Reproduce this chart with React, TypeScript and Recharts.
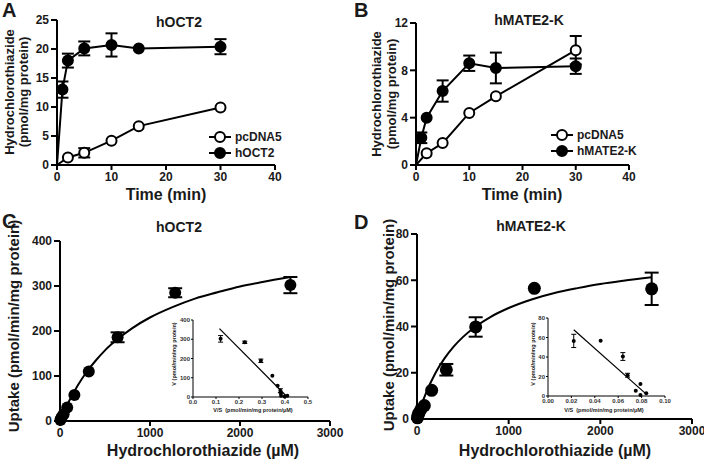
import React from 'react';
import { ComposedChart, Line, Scatter, XAxis, YAxis, ErrorBar, Legend, Label } from 'recharts';

const FONT = '"Liberation Sans", Arial, Helvetica, sans-serif';
const INK = '#1a1a1a';
const W = 704;
const H = 461;

// ---------- Panel A: hOCT2 time course ----------
const pcA_t = [0, 2, 5, 10, 15, 30];
const pcA_v = [0, 1.3, 2.1, 4.2, 6.7, 9.9];
const pcA_e = [0, 0, 0.8, 0, 0, 0];
const octA_t = [0, 1, 2, 5, 10, 15, 30];
const octA_v = [0, 13.0, 18.0, 20.1, 20.7, 20.1, 20.4];
const octA_e = [0, 1.4, 1.2, 1.2, 2.0, 0, 1.3];
const timeTicks = [0, 10, 20, 30, 40];
const aYTicks = [0, 5, 10, 15, 20, 25];

// ---------- Panel B: hMATE2-K time course ----------
const pcB_t = [0, 2, 5, 10, 15, 30];
const pcB_v = [0, 1.0, 1.85, 4.4, 5.8, 9.7];
const pcB_e = [0, 0, 0, 0, 0, 1.2];
const mateB_t = [0, 1, 2, 5, 10, 15, 30];
const mateB_v = [0, 2.3, 4.0, 6.25, 8.6, 8.2, 8.35];
const mateB_e = [0, 0.45, 0, 0.9, 0.65, 1.3, 0.65];
const bYTicks = [0, 4, 8, 12];

// ---------- Panel C: hOCT2 kinetics ----------
const concC = [5, 10, 20, 40, 80, 160, 320, 640, 1280, 2560];
const uptC = [2, 5, 9, 15, 30, 58, 110, 186, 285, 302];
const errC = [0, 0, 0, 0, 0, 0, 0, 11, 10, 18];
const fitX = [0, 50, 100, 200, 300, 400, 500, 640, 800, 1000, 1250, 1500, 1750, 2000, 2250, 2560];
const fitC = [0, 23, 44, 80, 110, 135, 157, 182, 206, 230, 253, 272, 286, 299, 309, 320];
const concTicks = [0, 1000, 2000, 3000];
const cYTicks = [0, 100, 200, 300, 400];

// ---------- Panel D: hMATE2-K kinetics ----------
const concD = [5, 10, 20, 40, 80, 160, 320, 640, 1280, 2560];
const uptD = [0.5, 1.5, 2.5, 4, 5.8, 12.4, 21.3, 39.8, 56.5, 56.3];
const errD = [0, 0, 0, 0, 0, 0, 2.5, 4.2, 0, 7];
const fitD = [0, 6.2, 11.4, 19.8, 26.2, 31.3, 35.4, 40, 44.1, 48, 51.7, 54.5, 56.6, 58.4, 59.8, 61.3];
const dYTicks = [0, 20, 40, 60, 80];

// ---------- Inset C (Eadie-Hofstee) ----------
const vsC = [0.12, 0.225, 0.295, 0.345, 0.368, 0.38, 0.382, 0.383, 0.398, 0.41];
const vC = [302, 284, 188, 110, 59, 33, 20, 7, 3, 7];
const veC = [17, 6, 9, 0, 0, 10, 0, 0, 0, 0];
const lineCx = [0.115, 0.41];
const lineCy = [355, 0];
const insCXTicks = [0, 0.1, 0.2, 0.3, 0.4, 0.5];
const insCYTicks = [0, 100, 200, 300, 400];

// ---------- Inset D (Eadie-Hofstee) ----------
const vsD = [0.022, 0.045, 0.064, 0.068, 0.079, 0.075, 0.079, 0.084];
const vD = [56.5, 56.7, 40.5, 21.3, 12.4, 5.5, 1, 2.8];
const veD = [6.8, 0, 4, 2, 0, 0, 0, 0];
const lineDx = [0.022, 0.083];
const lineDy = [68, 3];
const insDXTicks = [0, 0.02, 0.04, 0.06, 0.08, 0.1];
const insDYTicks = [0, 20, 40, 60, 80];

const zip = (xs: number[], ys: number[], es?: number[]) =>
  xs.map((x, i) => ({ x, y: ys[i], e: es ? es[i] : 0 }));

const tickStyle = { fill: INK, fontSize: 12, fontWeight: 700, fontFamily: FONT };
const insetTick = { fill: '#333', fontSize: 6, fontWeight: 700, fontFamily: FONT };
const mainAxis = { stroke: '#000', strokeWidth: 2 };
const insetAxis = { stroke: '#000', strokeWidth: 1 };
const txt = (size: number): React.CSSProperties => ({
  fontFamily: FONT, fontWeight: 700, fontSize: size, fill: INK,
});

const makeDot = (filled: boolean, r: number) => (p: any) => {
  const { cx, cy, payload, index } = p;
  if (!payload || payload.x === 0 || cx == null || cy == null) return <g key={`n${index}`} />;
  return (
    <circle key={`d${index}`} cx={cx} cy={cy} r={r}
      fill={filled ? '#000' : '#fff'} stroke="#000" strokeWidth={2} />
  );
};

const dotShape = (r: number) => (p: any) => (
  <circle cx={p.cx} cy={p.cy} r={r} fill="#000" />
);

const RotText = ({ x, y, size, children }: any) => (
  <text x={x} y={y} transform={`rotate(-90 ${x} ${y})`} textAnchor="middle"
    dominantBaseline="central" style={txt(size)}>{children}</text>
);

const LegendBox = ({ rows, mx }: { rows: { name: string; filled: boolean; y: number }[]; mx: number }) => (
  <svg width={110} height={36} style={{ overflow: 'visible', display: 'block' }}>
    {rows.map((r) => (
      <g key={r.name}>
        <line x1={mx - 11} y1={r.y} x2={mx + 11} y2={r.y} stroke="#000" strokeWidth={2} />
        <circle cx={mx} cy={r.y} r={5} fill={r.filled ? '#000' : '#fff'} stroke="#000" strokeWidth={2} />
        <text x={mx + 15} y={r.y} dominantBaseline="central" style={txt(12)}>{r.name}</text>
      </g>
    ))}
  </svg>
);

function PanelA() {
  return (
    <ComposedChart width={W} height={H} margin={{ top: 20, right: 429, bottom: 266, left: 17 }}>
      <XAxis type="number" dataKey="x" domain={[0, 40]} ticks={timeTicks} interval={0} height={30}
        tick={tickStyle} axisLine={mainAxis} tickLine={mainAxis} tickSize={5} tickMargin={2}>
        <Label content={() => (
          <text x={166} y={194} textAnchor="middle" dominantBaseline="central" style={txt(16)}>Time (min)</text>
        )} />
      </XAxis>
      <YAxis type="number" dataKey="y" domain={[0, 25]} ticks={aYTicks} interval={0} width={40}
        tick={tickStyle} axisLine={mainAxis} tickLine={mainAxis} tickSize={6} tickMargin={2}>
        <Label content={() => (
          <g>
            <RotText x={9} y={92} size={13}>Hydrochlorothiazide</RotText>
            <RotText x={23} y={92} size={13}>(pmol/mg protein)</RotText>
          </g>
        )} />
      </YAxis>
      <Line data={zip(pcA_t, pcA_v, pcA_e)} dataKey="y" name="pcDNA5" stroke="#000" strokeWidth={2}
        dot={makeDot(false, 5)} activeDot={false} isAnimationActive={false}>
        <ErrorBar dataKey="e" direction="y" width={6} stroke="#000" strokeWidth={2} />
      </Line>
      <Line data={zip(octA_t, octA_v, octA_e)} dataKey="y" name="hOCT2" stroke="#000" strokeWidth={2}
        dot={makeDot(true, 5)} activeDot={false} isAnimationActive={false}>
        <ErrorBar dataKey="e" direction="y" width={6} stroke="#000" strokeWidth={2} />
      </Line>
      <Legend layout="vertical" align="center" verticalAlign="middle"
        wrapperStyle={{ left: 205, top: 128, width: 110, height: 36 }}
        content={() => (
          <LegendBox mx={15} rows={[
            { name: 'pcDNA5', filled: false, y: 9 },
            { name: 'hOCT2', filled: true, y: 25 },
          ]} />
        )} />
    </ComposedChart>
  );
}

function PanelB() {
  return (
    <ComposedChart width={W} height={H} margin={{ top: 23, right: 75, bottom: 266, left: 376 }}>
      <XAxis type="number" dataKey="x" domain={[0, 40]} ticks={timeTicks} interval={0} height={30}
        tick={tickStyle} axisLine={mainAxis} tickLine={mainAxis} tickSize={5} tickMargin={2}>
        <Label content={() => (
          <text x={522} y={194} textAnchor="middle" dominantBaseline="central" style={txt(16)}>Time (min)</text>
        )} />
      </XAxis>
      <YAxis type="number" dataKey="y" domain={[0, 12]} ticks={bYTicks} interval={0} width={40}
        tick={tickStyle} axisLine={mainAxis} tickLine={mainAxis} tickSize={6} tickMargin={2}>
        <Label content={() => (
          <g>
            <RotText x={376} y={94} size={13}>Hydrochlorothiazide</RotText>
            <RotText x={391} y={94} size={13}>(pmol/mg protein)</RotText>
          </g>
        )} />
      </YAxis>
      <Line data={zip(pcB_t, pcB_v, pcB_e)} dataKey="y" name="pcDNA5" stroke="#000" strokeWidth={2}
        dot={makeDot(false, 5)} activeDot={false} isAnimationActive={false}>
        <ErrorBar dataKey="e" direction="y" width={6} stroke="#000" strokeWidth={2} />
      </Line>
      <Line data={zip(mateB_t, mateB_v, mateB_e)} dataKey="y" name="hMATE2-K" stroke="#000" strokeWidth={2}
        dot={makeDot(true, 5)} activeDot={false} isAnimationActive={false}>
        <ErrorBar dataKey="e" direction="y" width={6} stroke="#000" strokeWidth={2} />
      </Line>
      <Legend layout="vertical" align="center" verticalAlign="middle"
        wrapperStyle={{ left: 545, top: 126, width: 110, height: 36 }}
        content={() => (
          <LegendBox mx={17} rows={[
            { name: 'pcDNA5', filled: false, y: 9 },
            { name: 'hMATE2-K', filled: true, y: 25 },
          ]} />
        )} />
    </ComposedChart>
  );
}

function PanelC() {
  return (
    <ComposedChart width={W} height={H} margin={{ top: 241, right: 374, bottom: 15, left: 15 }}>
      <XAxis type="number" dataKey="x" domain={[0, 3000]} ticks={concTicks} interval={0} height={25}
        tick={tickStyle} axisLine={mainAxis} tickLine={mainAxis} tickSize={5} tickMargin={2}>
        <Label content={() => (
          <text x={203} y={450} textAnchor="middle" dominantBaseline="central" style={txt(16)}>Hydrochlorothiazide (µM)</text>
        )} />
      </XAxis>
      <YAxis type="number" dataKey="y" domain={[0, 400]} ticks={cYTicks} interval={0} width={45}
        tick={tickStyle} axisLine={mainAxis} tickLine={mainAxis} tickSize={6} tickMargin={2}>
        <Label content={() => (
          <RotText x={13.5} y={326} size={15}>Uptake (pmol/min/mg protein)</RotText>
        )} />
      </YAxis>
      <Line data={zip(fitX, fitC)} dataKey="y" type="monotone" stroke="#000" strokeWidth={2}
        dot={false} activeDot={false} isAnimationActive={false} />
      <Scatter data={zip(concC, uptC, errC)} dataKey="y" shape={dotShape(6)} isAnimationActive={false}>
        <ErrorBar dataKey="e" direction="y" width={7} stroke="#000" strokeWidth={2} />
      </Scatter>
    </ComposedChart>
  );
}

function PanelD() {
  return (
    <ComposedChart width={W} height={H} margin={{ top: 234, right: 12, bottom: 17, left: 377 }}>
      <XAxis type="number" dataKey="x" domain={[0, 3000]} ticks={concTicks} interval={0} height={25}
        tick={tickStyle} axisLine={mainAxis} tickLine={mainAxis} tickSize={5} tickMargin={2}>
        <Label content={() => (
          <text x={555} y={450} textAnchor="middle" dominantBaseline="central" style={txt(16)}>Hydrochlorothiazide (µM)</text>
        )} />
      </XAxis>
      <YAxis type="number" dataKey="y" domain={[0, 80]} ticks={dYTicks} interval={0} width={40}
        tick={tickStyle} axisLine={mainAxis} tickLine={mainAxis} tickSize={6} tickMargin={2}>
        <Label content={() => (
          <RotText x={388} y={325} size={15}>Uptake (pmol/min/mg protein)</RotText>
        )} />
      </YAxis>
      <Line data={zip(fitX, fitD)} dataKey="y" type="monotone" stroke="#000" strokeWidth={2}
        dot={false} activeDot={false} isAnimationActive={false} />
      <Scatter data={zip(concD, uptD, errD)} dataKey="y" shape={dotShape(6.5)} isAnimationActive={false}>
        <ErrorBar dataKey="e" direction="y" width={7} stroke="#000" strokeWidth={2} />
      </Scatter>
    </ComposedChart>
  );
}

function InsetC() {
  return (
    <ComposedChart width={W} height={H} margin={{ top: 320, right: 396, bottom: 52, left: 173 }}>
      <XAxis type="number" dataKey="x" domain={[0, 0.5]} ticks={insCXTicks} interval={0} height={12}
        tickFormatter={(v: number) => v.toFixed(1)}
        tick={insetTick} axisLine={insetAxis} tickLine={insetAxis} tickSize={2} tickMargin={1}>
        <Label content={() => (
          <text x={253} y={410} textAnchor="middle" dominantBaseline="central" style={txt(5.5)}>{'V/S\u00a0 (pmol/min/mg protein/µM)'}</text>
        )} />
      </XAxis>
      <YAxis type="number" dataKey="y" domain={[0, 400]} ticks={insCYTicks} interval={0} width={20}
        tick={insetTick} axisLine={insetAxis} tickLine={insetAxis} tickSize={2} tickMargin={1}>
        <Label content={() => (
          <RotText x={174} y={354} size={5.5}>V (pmol/min/mg protein)</RotText>
        )} />
      </YAxis>
      <Line data={zip(lineCx, lineCy)} dataKey="y" stroke="#000" strokeWidth={1.2}
        dot={false} activeDot={false} isAnimationActive={false} />
      <Scatter data={zip(vsC, vC, veC)} dataKey="y" shape={dotShape(2)} isAnimationActive={false}>
        <ErrorBar dataKey="e" direction="y" width={2.5} stroke="#000" strokeWidth={1} />
      </Scatter>
    </ComposedChart>
  );
}

function InsetD() {
  return (
    <ComposedChart width={W} height={H} margin={{ top: 318, right: 39, bottom: 53, left: 528 }}>
      <XAxis type="number" dataKey="x" domain={[0, 0.1]} ticks={insDXTicks} interval={0} height={12}
        tickFormatter={(v: number) => v.toFixed(2)}
        tick={insetTick} axisLine={insetAxis} tickLine={insetAxis} tickSize={2} tickMargin={1}>
        <Label content={() => (
          <text x={604} y={410} textAnchor="middle" dominantBaseline="central" style={txt(5.5)}>{'V/S\u00a0 (pmol/min/mg protein/µM)'}</text>
        )} />
      </XAxis>
      <YAxis type="number" dataKey="y" domain={[0, 80]} ticks={insDYTicks} interval={0} width={20}
        tick={insetTick} axisLine={insetAxis} tickLine={insetAxis} tickSize={2} tickMargin={1}>
        <Label content={() => (
          <RotText x={533} y={354} size={5.5}>V (pmol/min/mg protein)</RotText>
        )} />
      </YAxis>
      <Line data={zip(lineDx, lineDy)} dataKey="y" stroke="#000" strokeWidth={1.2}
        dot={false} activeDot={false} isAnimationActive={false} />
      <Scatter data={zip(vsD, vD, veD)} dataKey="y" shape={dotShape(2)} isAnimationActive={false}>
        <ErrorBar dataKey="e" direction="y" width={2.5} stroke="#000" strokeWidth={1} />
      </Scatter>
    </ComposedChart>
  );
}

const layer: React.CSSProperties = { position: 'absolute', left: 0, top: 0 };

export default function App() {
  return (
    <div style={{ position: 'absolute', left: 0, top: 0, width: W, height: H, background: '#fff', overflow: 'hidden' }}>
      <svg width={W} height={H} style={layer}>
        <text x={2} y={17} style={txt(20)}>A</text>
        <text x={354} y={17} style={txt(20)}>B</text>
        <text x={2} y={228} style={txt(20)}>C</text>
        <text x={354} y={229} style={txt(20)}>D</text>
        <text x={179} y={22} textAnchor="middle" dominantBaseline="central" style={txt(14)}>hOCT2</text>
        <text x={529} y={20} textAnchor="middle" dominantBaseline="central" style={txt(14)}>hMATE2-K</text>
        <text x={179} y={227} textAnchor="middle" dominantBaseline="central" style={txt(14)}>hOCT2</text>
        <text x={531} y={226} textAnchor="middle" dominantBaseline="central" style={txt(14)}>hMATE2-K</text>
      </svg>
      <div style={layer}><PanelA /></div>
      <div style={layer}><PanelB /></div>
      <div style={layer}><PanelC /></div>
      <div style={layer}><PanelD /></div>
      <div style={layer}><InsetC /></div>
      <div style={layer}><InsetD /></div>
    </div>
  );
}
